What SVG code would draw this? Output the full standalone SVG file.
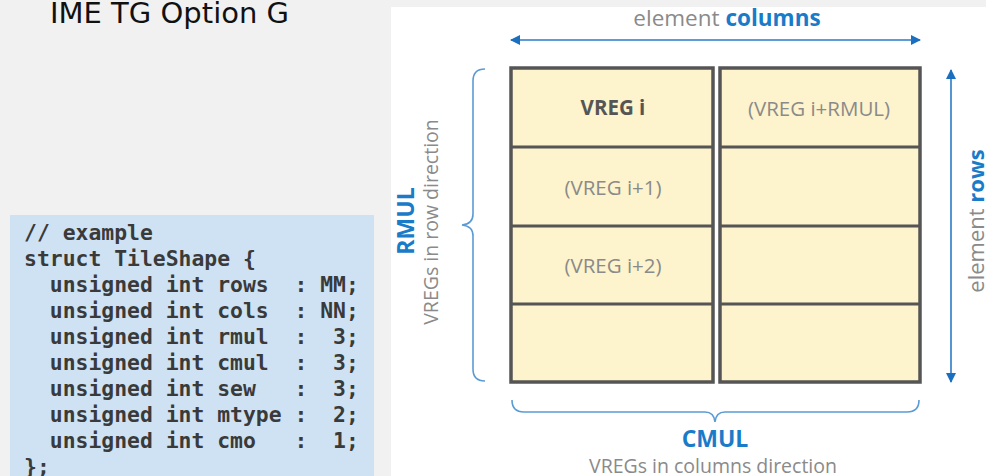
<svg xmlns="http://www.w3.org/2000/svg" width="986" height="476" viewBox="0 0 986 476">
<style>
.title{font-family:"DejaVu Sans",sans-serif;font-size:29px;fill:#111}
.code{font-family:"DejaVu Sans Mono","Liberation Mono",monospace;font-size:21.4px;font-weight:bold;fill:#3a3a3a;white-space:pre}
.lbl{font-family:"Open Sans","Noto Sans",sans-serif;fill:#8a8a8a}
.blue{fill:#1a7bc9;font-weight:bold}
.cell{fill:#fdf3cc;stroke:#555;stroke-width:3.5}
.div{stroke:#555;stroke-width:3}
.reg{font-family:"Open Sans","Noto Sans",sans-serif;font-size:20.5px;fill:#8a8a8a;text-anchor:middle}
.brace{fill:none;stroke:#5b9bd5;stroke-width:1.6}
.arrow{stroke:#2a7ac7;stroke-width:1.6;fill:none}
</style>
<defs>
<marker id="ah" viewBox="0 0 10 10" refX="9" refY="5" markerWidth="10" markerHeight="10" markerUnits="userSpaceOnUse" orient="auto-start-reverse">
<path d="M0,0 L10,5 L0,10 z" fill="#1a6fc0"/>
</marker>
</defs>
<rect x="0" y="0" width="986" height="476" fill="#f1f1f1"/>
<rect x="391" y="7" width="595" height="469" fill="#ffffff"/>
<text class="title" x="50" y="23">IME TG Option G</text>

<g id="code">
<rect x="10" y="215" width="364" height="261" fill="#cfe2f3"/>
<text class="code" x="24" y="240" xml:space="preserve">// example</text>
<text class="code" x="24" y="266" xml:space="preserve">struct TileShape {</text>
<text class="code" x="24" y="292" xml:space="preserve">  unsigned int rows  : MM;</text>
<text class="code" x="24" y="318" xml:space="preserve">  unsigned int cols  : NN;</text>
<text class="code" x="24" y="344" xml:space="preserve">  unsigned int rmul  :  3;</text>
<text class="code" x="24" y="370" xml:space="preserve">  unsigned int cmul  :  3;</text>
<text class="code" x="24" y="396" xml:space="preserve">  unsigned int sew   :  3;</text>
<text class="code" x="24" y="422" xml:space="preserve">  unsigned int mtype :  2;</text>
<text class="code" x="24" y="448" xml:space="preserve">  unsigned int cmo   :  1;</text>
<text class="code" x="24" y="474" xml:space="preserve">};</text>
</g>

<g id="col-left">
<rect class="cell" x="511" y="68" width="202" height="314"/>
<line class="div" x1="511" y1="147" x2="713" y2="147"/>
<line class="div" x1="511" y1="226" x2="713" y2="226"/>
<line class="div" x1="511" y1="304" x2="713" y2="304"/>
<text class="reg" x="613" y="115" style="font-weight:bold;fill:#555">VREG i</text>
<text class="reg" x="613" y="195">(VREG i+1)</text>
<text class="reg" x="613" y="273">(VREG i+2)</text>
</g>
<g id="col-right">
<rect class="cell" x="720" y="68" width="200" height="314"/>
<line class="div" x1="720" y1="147" x2="920" y2="147"/>
<line class="div" x1="720" y1="226" x2="920" y2="226"/>
<line class="div" x1="720" y1="304" x2="920" y2="304"/>
<text class="reg" x="819" y="116">(VREG i+RMUL)</text>
</g>

<g id="connectors">
<line class="arrow" x1="511" y1="40" x2="920" y2="40" marker-start="url(#ah)" marker-end="url(#ah)"/>
<line class="arrow" x1="951" y1="70" x2="951" y2="382" marker-start="url(#ah)" marker-end="url(#ah)"/>
<path class="brace" d="M485,69 Q473,69 473,81 L473,214 Q473,224 462,225 Q473,226 473,236 L473,369 Q473,381 485,381"/>
<path class="brace" d="M512,400 Q512,412 524,412 L705,412 Q714,412 715,422 Q716,412 725,412 L907,412 Q919,412 919,400"/>
</g>

<g id="label-columns">
<text class="lbl" x="727" y="26" font-size="22.5" text-anchor="middle">element <tspan class="blue">columns</tspan></text>
</g>
<g id="label-rows">
<text class="lbl" transform="translate(984,221) rotate(-90)" font-size="22" text-anchor="middle">element <tspan class="blue">rows</tspan></text>
</g>
<g id="label-rmul">
<text class="lbl blue" transform="translate(414,221) rotate(-90)" font-size="23" text-anchor="middle">RMUL</text>
<text class="lbl" transform="translate(438,222) rotate(-90)" font-size="19.5" text-anchor="middle">VREGs in row direction</text>
</g>
<g id="label-cmul">
<text class="lbl blue" x="715" y="447" font-size="23" text-anchor="middle">CMUL</text>
<text class="lbl" x="713" y="473" font-size="19.5" text-anchor="middle">VREGs in columns direction</text>
</g>
</svg>
